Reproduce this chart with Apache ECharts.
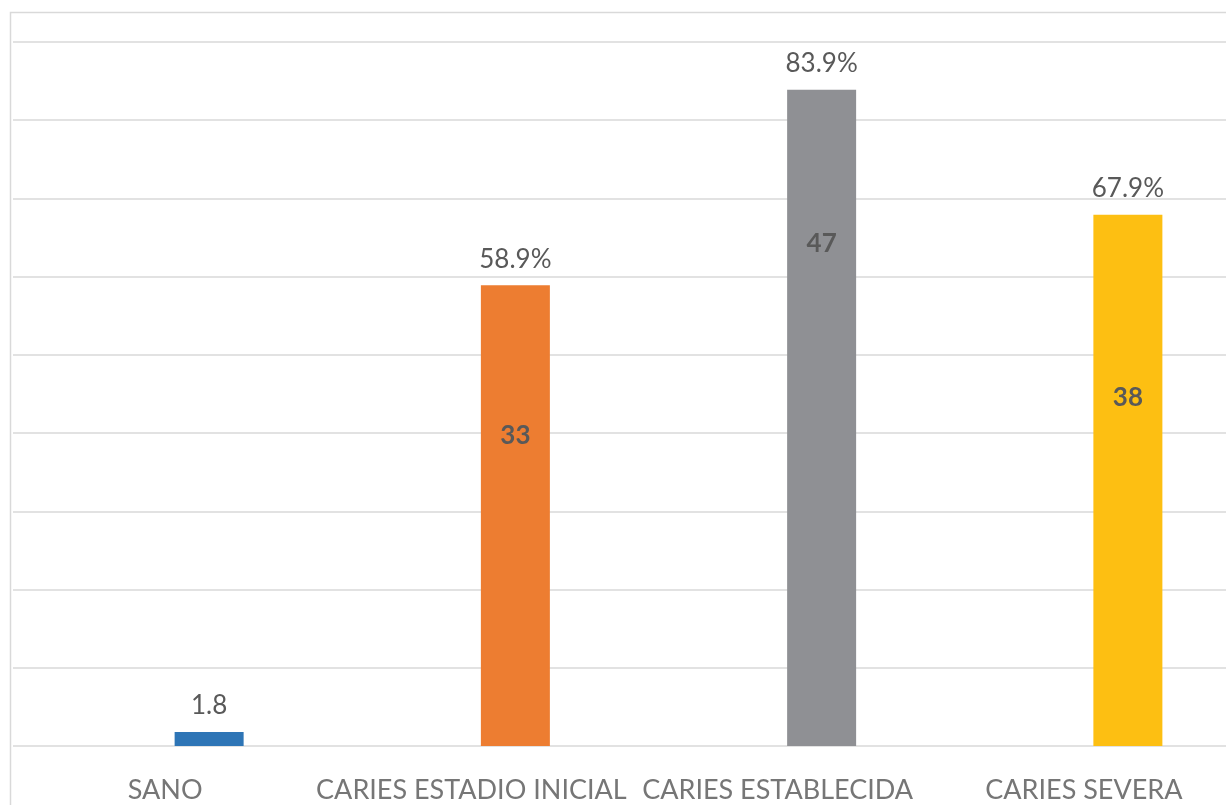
<!DOCTYPE html>
<html>
<head>
<meta charset="utf-8">
<script src="https://cdn.jsdelivr.net/npm/echarts@6/dist/echarts.min.js"></script>
<style>
html,body{margin:0;padding:0;background:#fff;}
#chart{width:1226px;height:805px;}
</style>
</head>
<body>
<div id="chart"></div>
<script>
var categories = ['SANO', 'CARIES ESTADIO INICIAL', 'CARIES ESTABLECIDA', 'CARIES SEVERA'];
var percentValues = [1.8, 58.9, 83.9, 67.9];
var topLabels = ['1.8', '58.9%', '83.9%', '67.9%'];
var counts = ['', '33', '47', '38'];
var yMin = 0, yMax = 90, yInterval = 10;

var barColors = ['#2E75B6', '#ED7D31', '#8F9094', '#FDBF12'];
var insideLabelDrop = [0, 150, 154, 183];
var FONT = 'Lato';

var chart = echarts.init(document.getElementById('chart'), null, {renderer: 'canvas'});
var option = {
  animation: false,
  backgroundColor: '#ffffff',
  graphic: [{
    type: 'rect',
    shape: {x: 10.5, y: 12.5, width: 1400, height: 1000},
    style: {fill: 'none', stroke: '#d9d9d9', lineWidth: 1.5},
    z: -10
  }],
  grid: [
    {left: 13, right: -20, top: 42, height: 704, outerBoundsMode: 'none', containLabel: false},
    {left: 56, width: 1225, top: 42, height: 704, outerBoundsMode: 'none', containLabel: false}
  ],
  xAxis: [
    {gridIndex: 0, type: 'category', data: categories, show: false},
    {gridIndex: 1, type: 'category', data: categories,
     axisLine: {show: false}, axisTick: {show: false},
     axisLabel: {color: '#767676', fontFamily: FONT, fontSize: 27, margin: 31, interval: 0,
                 padding: [0, 88, 0, 0]}}
  ],
  yAxis: [
    {gridIndex: 0, type: 'value', min: yMin, max: yMax, interval: yInterval,
     axisLine: {show: false}, axisTick: {show: false}, axisLabel: {show: false},
     splitLine: {show: true, lineStyle: {color: '#d9d9d9', width: 1.5}}},
    {gridIndex: 1, type: 'value', min: yMin, max: yMax, interval: yInterval, show: false,
     splitLine: {show: false}}
  ],
  series: [
    {
      type: 'bar', xAxisIndex: 1, yAxisIndex: 1,
      barWidth: 69,
      data: percentValues.map(function (v, i) {
        return {value: v, itemStyle: {color: barColors[i]}};
      }),
      label: {
        show: true, position: 'top', distance: 13,
        color: '#595959', fontFamily: FONT, fontSize: 26,
        formatter: function (p) { return topLabels[p.dataIndex]; }
      },
      z: 2
    },
    {
      type: 'bar', xAxisIndex: 1, yAxisIndex: 1,
      barWidth: 69, barGap: '-100%',
      data: percentValues.map(function (v, i) {
        return {value: v, label: {offset: [0, insideLabelDrop[i]]}};
      }),
      itemStyle: {color: 'rgba(0,0,0,0)'},
      label: {
        show: true, position: 'insideTop', distance: 0,
        verticalAlign: 'middle',
        color: '#595959', fontFamily: FONT, fontSize: 26, fontWeight: 'bold',
        formatter: function (p) { return counts[p.dataIndex]; }
      },
      z: 3
    }
  ]
};
chart.setOption(option);
</script>
</body>
</html>
